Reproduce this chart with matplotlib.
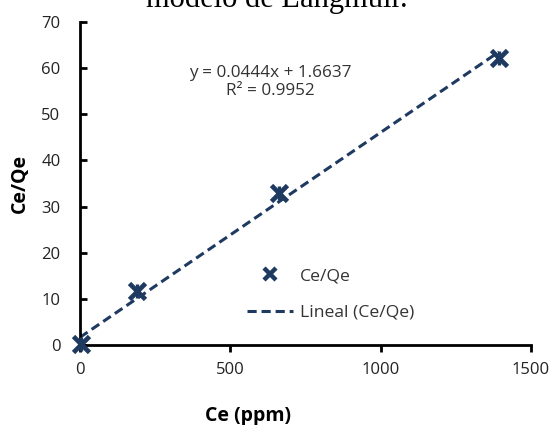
import matplotlib
matplotlib.use("Agg")
import matplotlib.pyplot as plt
from matplotlib.lines import Line2D
import numpy as np

ce = [2, 190, 662, 1393]
ce_qe = [0.3, 11.7, 32.9, 62.2]
slope = 0.0444
intercept = 1.6637
eq_text = "y = 0.0444x + 1.6637\nR² = 0.9952"
xticks = [0, 500, 1000, 1500]
yticks = [0, 10, 20, 30, 40, 50, 60, 70]

navy = "#1F3A60"
plt.rcParams['font.family'] = ['Open Sans', 'DejaVu Sans']

fig = plt.figure(figsize=(5.54, 4.25), dpi=100)
ax = fig.add_axes([80/554, 80/425, 451/554, 323/425])

# trendline
xl = np.array([0, max(ce)])
ax.plot(xl, slope * xl + intercept, ls=(0, (3, 1.6)), color=navy, lw=2.2, zorder=2)
# asterisk markers
ax.plot(ce, ce_qe, ls='none', marker='x', ms=12, mew=3.4, color=navy, zorder=3, clip_on=False)
ax.plot(ce, ce_qe, ls='none', marker='|', ms=10, mew=2.4, color=navy, zorder=3, clip_on=False)

ax.set_xlim(0, 1500)
ax.set_ylim(0, 70)
ax.set_xticks(xticks)
ax.set_yticks(yticks)
for s in ['top', 'right']:
    ax.spines[s].set_visible(False)
for s in ['left', 'bottom']:
    ax.spines[s].set_linewidth(2)
    ax.spines[s].set_color('black')
ax.tick_params(axis='x', direction='out', length=5, width=2, labelsize=12, pad=7)
ax.tick_params(axis='y', direction='in', length=5, width=2, labelsize=12, pad=14)
for lab in ax.get_xticklabels() + ax.get_yticklabels():
    lab.set_color('#222222')

ax.set_xlabel("Ce (ppm)", fontsize=14, fontweight='bold')
ax.set_ylabel("Ce/Qe", fontsize=14, fontweight='bold')
ax.xaxis.set_label_coords((248 - 80) / 451, -(416 - 345) / 323)
ax.xaxis.label.set_va('center')
ax.yaxis.set_label_coords(-(80 - 20) / 451, 0.5)
ax.yaxis.label.set_va('center')

ax.text((270 - 80) / 451, (345 - 82) / 323, eq_text, transform=ax.transAxes,
        ha='center', va='center', fontsize=12.3, color='#333333', linespacing=1.15)

handles = [
    Line2D([], [], ls='none', marker='x', ms=9, mew=3.2, color=navy),
    Line2D([], [], ls=(0, (3, 1.6)), lw=2.2, color=navy),
]
leg = ax.legend(handles, ["Ce/Qe", "Lineal (Ce/Qe)"], loc='upper left',
                bbox_to_anchor=((247 - 80) / 451, (345 - 268) / 323), frameon=False,
                fontsize=12.6, labelspacing=1.15, handlelength=2.6, handletextpad=0.4,
                borderpad=0, borderaxespad=0)
for t in leg.get_texts():
    t.set_color('#333333')

fig.text(277 / 554, 1 - 7/425, "modelo de Langmuir.", ha='center', va='baseline',
         fontsize=22, family='Liberation Serif', color='black')

fig.savefig("out.png", dpi=100)
